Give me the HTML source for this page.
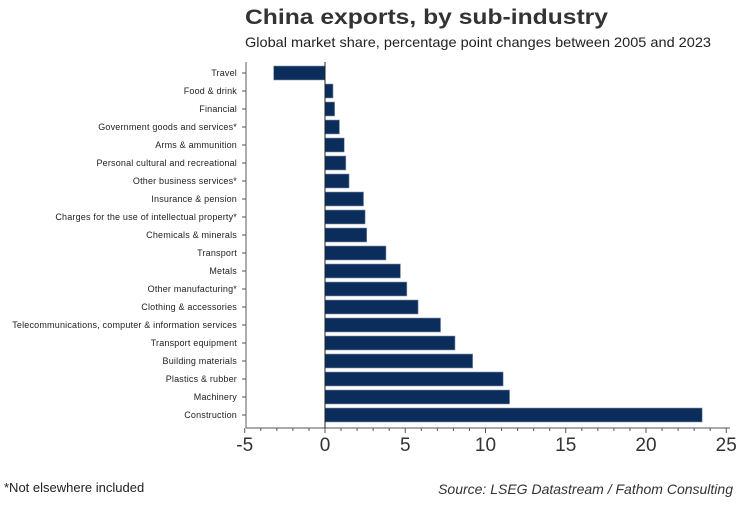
<!DOCTYPE html>
<html><head><meta charset="utf-8"><style>
body{margin:0;background:#fff;width:750px;height:500px;overflow:hidden;font-family:"Liberation Sans",sans-serif}
</style></head><body>
<svg width="750" height="500">
<text x="245" y="24" font-size="21" font-weight="bold" fill="#333" textLength="363" lengthAdjust="spacingAndGlyphs">China exports, by sub-industry</text>
<text x="245" y="47" font-size="14" fill="#222" textLength="466" lengthAdjust="spacingAndGlyphs">Global market share, percentage point changes between 2005 and 2023</text>
<g id="plot"></g>
<text x="4" y="492" font-size="13" fill="#222">*Not elsewhere included</text>
<text x="733" y="494" font-size="14" font-style="italic" fill="#333" text-anchor="end">Source: LSEG Datastream / Fathom Consulting</text>
</svg>
<script>
const categories=["Travel","Food & drink","Financial","Government goods and services*","Arms & ammunition","Personal cultural and recreational","Other business services*","Insurance & pension","Charges for the use of intellectual property*","Chemicals & minerals","Transport","Metals","Other manufacturing*","Clothing & accessories","Telecommunications, computer & information services","Transport equipment","Building materials","Plastics & rubber","Machinery","Construction"];
const values=[-3.2,0.5,0.6,0.9,1.2,1.3,1.5,2.4,2.5,2.6,3.8,4.7,5.1,5.8,7.2,8.1,9.2,11.1,11.5,23.5];
const ticks=[-5,0,5,10,15,20,25];
const NS="http://www.w3.org/2000/svg";
const g=document.getElementById('plot');
const x=v=>325+(v)*16.05;
const y=i=>73+i*18;
function mk(t,a){const e=document.createElementNS(NS,t);for(const k in a)e.setAttribute(k,a[k]);g.appendChild(e);return e;}
let ax=mk('line',{x1:246,y1:62,x2:246,y2:428,stroke:'#777','stroke-width':1.2});


let bx=mk('line',{x1:246,y1:428,x2:730,y2:428,stroke:'#777','stroke-width':1.2});


categories.forEach((c,i)=>{
  const v=values[i];
  const r=mk('rect',{x:Math.min(x(0),x(v)),y:y(i)-7,width:Math.abs(x(v)-x(0)),height:14,fill:'#0b2d5c',stroke:'#8a96a8','stroke-width':0.6});
  
  
  mk('line',{x1:242,y1:y(i),x2:246,y2:y(i),stroke:'#555'});
  const t=mk('text',{x:237,y:y(i)+3,'font-size':9,fill:'#222','text-anchor':'end','letter-spacing':0.19});
  t.textContent=c;
  
  
});
const zl=mk('line',{x1:x(0),y1:62,x2:x(0),y2:428,stroke:'#222','stroke-width':1});


for(let v=ticks[0];v<=ticks[ticks.length-1];v++){
  const major=v%5===0;
  mk('line',{x1:x(v),y1:428,x2:x(v),y2:major?433:431,stroke:'#555'});
}
ticks.forEach(v=>{
  const t=mk('text',{x:x(v),y:451,'font-size':19,fill:'#333','text-anchor':'middle'});
  t.textContent=v;
  
  
});
</script>
</body></html>
